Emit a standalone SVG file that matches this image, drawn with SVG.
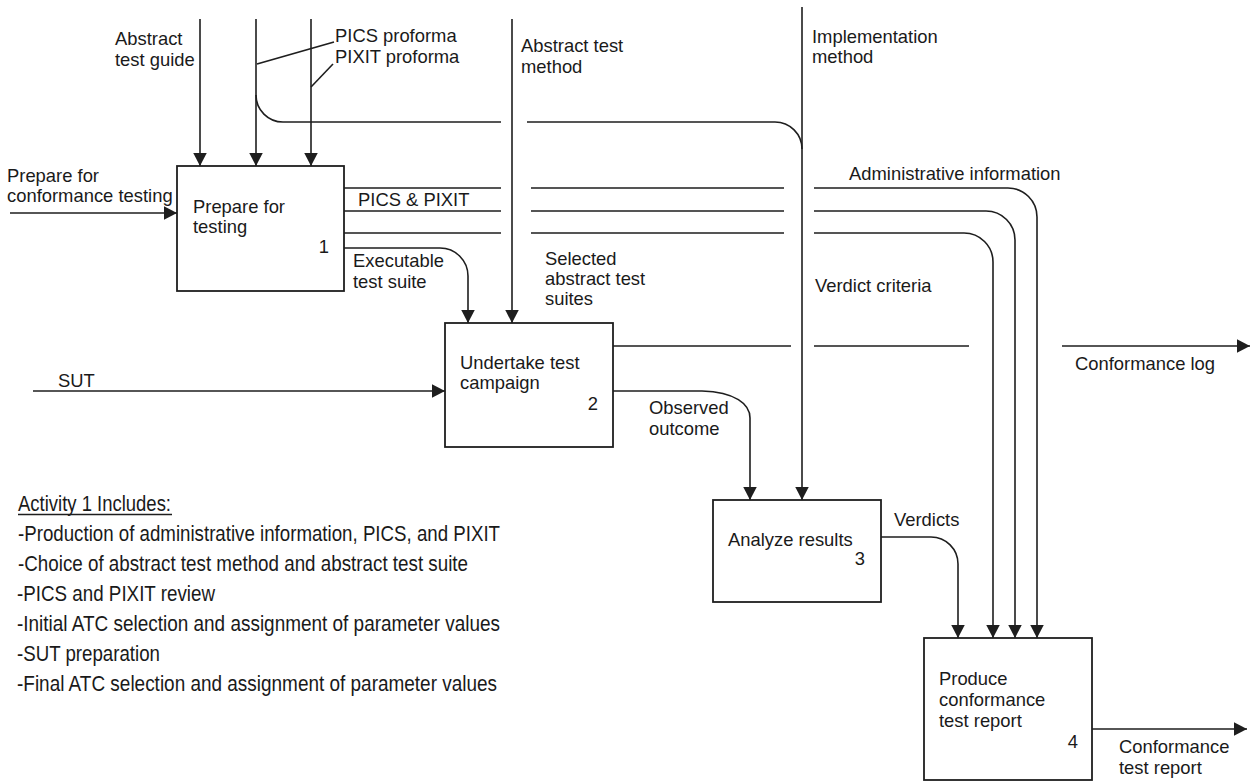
<svg xmlns="http://www.w3.org/2000/svg" width="1253" height="782" viewBox="0 0 1253 782">
<style>
  .box { fill: #ffffff; stroke: #1e1e1e; stroke-width: 1.8; }
  .ln { fill: none; stroke: #1e1e1e; stroke-width: 1.6; }
  .arr { fill: none; stroke: #1e1e1e; stroke-width: 1.6; marker-end: url(#ah); }
  .lb { font-family: "Liberation Sans", Arial, sans-serif; font-size: 18.4px; fill: #1a1a1a; }
  .nt { font-family: "Liberation Sans", Arial, sans-serif; font-size: 18.4px; fill: #1a1a1a; }
  .act { font-family: "Liberation Sans", Arial, sans-serif; font-size: 22px; fill: #1a1a1a; }
</style>
<defs>
  <marker id="ah" markerUnits="userSpaceOnUse" markerWidth="15" markerHeight="15" refX="13.5" refY="7" orient="auto">
    <path d="M0,0 L13.5,7 L0,14 Z" fill="#1e1e1e"/>
  </marker>
</defs>
<rect width="1253" height="782" fill="#ffffff"/>

<g id="connectors">
  <!-- controls into activity 1 -->
  <path class="arr" d="M200,19 V166"/>
  <path class="arr" d="M256,19 V166"/>
  <path class="arr" d="M311,19 V166"/>
  <!-- PICS proforma branch to analyze results -->
  <path class="ln" d="M256,95 A27,27 0 0 0 283,122 H501"/>
  <path class="ln" d="M527,122 H775 A27,27 0 0 1 802,149"/>
  <!-- implementation method -->
  <path class="arr" d="M802,7 V500"/>
  <!-- abstract test method -->
  <path class="arr" d="M512,19 V323"/>
  <!-- leaders -->
  <path class="ln" d="M257,64 L334,42"/>
  <path class="ln" d="M311,87 L333,64"/>
  <!-- input to activity 1 -->
  <path class="arr" d="M10,213 H177"/>
  <!-- outputs of activity 1 to activity 4 -->
  <path class="ln" d="M344,188 H501 M531,188 H784"/>
  <path class="arr" d="M814,188 H1008 A29,29 0 0 1 1037,217 V638"/>
  <path class="ln" d="M344,211 H501 M531,211 H784"/>
  <path class="arr" d="M814,211 H986 A29,29 0 0 1 1015,240 V638"/>
  <path class="ln" d="M344,233 H501 M531,233 H784"/>
  <path class="arr" d="M814,233 H964 A29,29 0 0 1 993,262 V638"/>
  <!-- executable test suite -->
  <path class="arr" d="M344,248 H440 A28,28 0 0 1 468,276 V323"/>
  <!-- SUT -->
  <path class="arr" d="M33,391 H445"/>
  <!-- conformance log -->
  <path class="ln" d="M613,346 H791 M814,346 H969"/>
  <path class="arr" d="M1062,346 H1250"/>
  <!-- observed outcome -->
  <path class="arr" d="M613,391 H702 C735,392 750,404 750,418 V500"/>
  <!-- verdicts -->
  <path class="arr" d="M881,537 H931 A27,27 0 0 1 958,564 V638"/>
  <!-- conformance test report -->
  <path class="arr" d="M1092,729 H1247"/>
</g>

<g id="labels">
  <text class="lb" x="115" y="45">Abstract</text>
  <text class="lb" x="115" y="66">test guide</text>
  <text class="lb" x="335" y="42">PICS proforma</text>
  <text class="lb" x="335" y="63">PIXIT proforma</text>
  <text class="lb" x="521" y="52">Abstract test</text>
  <text class="lb" x="521" y="73">method</text>
  <text class="lb" x="812" y="43">Implementation</text>
  <text class="lb" x="812" y="63">method</text>
  <text class="lb" x="7" y="182">Prepare for</text>
  <text class="lb" x="7" y="202">conformance testing</text>
  <text class="lb" x="358" y="206">PICS &amp; PIXIT</text>
  <text class="lb" x="849" y="180">Administrative information</text>
  <text class="lb" x="353" y="267">Executable</text>
  <text class="lb" x="353" y="288">test suite</text>
  <text class="lb" x="545" y="265">Selected</text>
  <text class="lb" x="545" y="285">abstract test</text>
  <text class="lb" x="545" y="305">suites</text>
  <text class="lb" x="815" y="292">Verdict criteria</text>
  <text class="lb" x="58" y="387">SUT</text>
  <text class="lb" x="1075" y="370">Conformance log</text>
  <text class="lb" x="649" y="414">Observed</text>
  <text class="lb" x="649" y="435">outcome</text>
  <text class="lb" x="894" y="526">Verdicts</text>
  <text class="lb" x="1119" y="753">Conformance</text>
  <text class="lb" x="1119" y="774">test report</text>
</g>

<g id="node1">
  <rect class="box" x="177" y="166" width="167" height="125"/>
  <text class="nt" x="193" y="213">Prepare for</text>
  <text class="nt" x="193" y="233">testing</text>
  <text class="nt" x="329" y="253" text-anchor="end">1</text>
</g>
<g id="node2">
  <rect class="box" x="445" y="323" width="168" height="124"/>
  <text class="nt" x="460" y="369">Undertake test</text>
  <text class="nt" x="460" y="389">campaign</text>
  <text class="nt" x="598" y="410" text-anchor="end">2</text>
</g>
<g id="node3">
  <rect class="box" x="713" y="500" width="168" height="102"/>
  <text class="nt" x="728" y="546">Analyze results</text>
  <text class="nt" x="865" y="565" text-anchor="end">3</text>
</g>
<g id="node4">
  <rect class="box" x="924" y="638" width="168" height="142"/>
  <text class="nt" x="939" y="685">Produce</text>
  <text class="nt" x="939" y="706">conformance</text>
  <text class="nt" x="939" y="727">test report</text>
  <text class="nt" x="1078" y="748" text-anchor="end">4</text>
</g>

<g id="note">
  <text class="act" x="18" y="511" textLength="153" lengthAdjust="spacingAndGlyphs">Activity 1 Includes:</text>
  <line class="ln" x1="18" y1="514.5" x2="172" y2="514.5" style="stroke-width:1.3"/>
  <text class="act" x="18" y="541" textLength="482" lengthAdjust="spacingAndGlyphs">-Production of administrative information, PICS, and PIXIT</text>
  <text class="act" x="18" y="571" textLength="450" lengthAdjust="spacingAndGlyphs">-Choice of abstract test method and abstract test suite</text>
  <text class="act" x="17" y="601" textLength="198" lengthAdjust="spacingAndGlyphs">-PICS and PIXIT review</text>
  <text class="act" x="17" y="631" textLength="483" lengthAdjust="spacingAndGlyphs">-Initial ATC selection and assignment of parameter values</text>
  <text class="act" x="17" y="661" textLength="143" lengthAdjust="spacingAndGlyphs">-SUT preparation</text>
  <text class="act" x="17" y="691" textLength="480" lengthAdjust="spacingAndGlyphs">-Final ATC selection and assignment of parameter values</text>
</g>
</svg>
